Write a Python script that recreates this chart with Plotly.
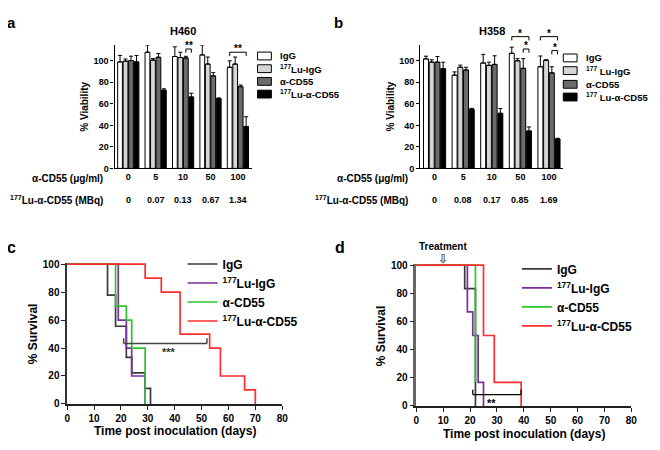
import plotly.graph_objects as go

# ---- bar panels (a: H460, b: H358) ----
groups = ['0', '5', '10', '50', '100']
mbq_a = ['0', '0.07', '0.13', '0.67', '1.34']
mbq_b = ['0', '0.08', '0.17', '0.85', '1.69']
names_a = ['IgG', '<sup>177</sup>Lu-IgG', 'α-CD55', '<sup>177</sup>Lu-α-CD55']
names_b = ['IgG', '<sup>177</sup> Lu-IgG', 'α-CD55', '<sup>177</sup> Lu-α-CD55']
bar_colors = ['#FFFFFF', '#D6D6D6', '#6B6B6B', '#000000']

h460_igg = [99, 108, 104, 105.5, 94]
h460_igg_err = [6, 6.5, 9, 9, 6]
h460_luigg = [99.7, 100.6, 103, 97, 97]
h460_luigg_err = [2, 1.5, 5, 6.5, 6.5]
h460_cd55 = [100.3, 103.3, 102.7, 86, 76]
h460_cd55_err = [4, 3.5, 1.5, 3, 1.5]
h460_lucd55 = [99, 72.7, 66.4, 65, 39]
h460_lucd55_err = [6, 1.3, 3.5, 0.5, 9]

h358_igg = [101.8, 86.7, 98, 107, 94.5]
h358_igg_err = [2.5, 3, 8, 5.7, 10]
h358_luigg = [98.8, 94, 95.8, 100, 100.6]
h358_luigg_err = [2.2, 2, 3, 2, 0.3]
h358_cd55 = [98.8, 91.5, 96.7, 93, 88.8]
h358_cd55_err = [5.2, 2.5, 8, 9, 5.7]
h358_lucd55 = [92.7, 55, 51.2, 34.8, 27.3]
h358_lucd55_err = [6, 0.8, 4.5, 3.7, 0.7]

# ---- survival panels (c, d) ----
c_igg_t = [0, 15, 18, 22, 24, 29, 31]
c_igg_s = [100, 77.8, 55.6, 33.3, 22.2, 11.1, 0]
c_luigg_t = [0, 19, 22, 24, 29]
c_luigg_s = [100, 60, 40, 20, 0]
c_cd55_t = [0, 18, 22, 24, 29]
c_cd55_s = [100, 70, 60, 40, 0]
c_lucd55_t = [0, 29, 35, 42, 53, 57, 66, 70]
c_lucd55_s = [100, 90, 80, 50, 40, 20, 10, 0]

d_igg_t = [0, 18, 22]
d_igg_s = [100, 83.3, 0]
d_luigg_t = [0, 19, 21, 23, 25]
d_luigg_s = [100, 66.7, 50, 16.7, 0]
d_cd55_t = [0, 22]
d_cd55_s = [100, 16.7]
d_lucd55_t = [0, 25, 29, 39]
d_lucd55_s = [100, 50, 16.7, 0]

surv_names = ['IgG', '<sup>177</sup>Lu-IgG', 'α-CD55', '<sup>177</sup>Lu-α-CD55']
surv_colors = ['#3A3A3A', '#7A2E9E', '#2BC42B', '#FF2E2E']

FONT = 'Liberation Sans, Arial, sans-serif'
BAR_YMAX = 114.5
SURV_YMAX = 101
# the page body has an 8px margin, so the figure is drawn 8px in from the corner
OFF = 8
W, H = 660 - OFF, 450 - OFF

fig = go.Figure()

bar_sets = [
    ('x', 'y', names_a,
     [(h460_igg, h460_igg_err), (h460_luigg, h460_luigg_err),
      (h460_cd55, h460_cd55_err), (h460_lucd55, h460_lucd55_err)]),
    ('x2', 'y2', names_b,
     [(h358_igg, h358_igg_err), (h358_luigg, h358_luigg_err),
      (h358_cd55, h358_cd55_err), (h358_lucd55, h358_lucd55_err)]),
]
for xa, ya, names, data in bar_sets:
    for name, color, (vals, errs) in zip(names, bar_colors, data):
        fig.add_trace(go.Bar(
            x=groups, y=vals, name=name, xaxis=xa, yaxis=ya, showlegend=False,
            marker=dict(color=color, line=dict(color='black', width=1)),
            error_y=dict(type='data', symmetric=False, array=errs,
                         arrayminus=[0] * len(errs), color='black',
                         thickness=1, width=2),
        ))

surv_sets = [
    ('x3', 'y3', 'legend', [(c_igg_t, c_igg_s), (c_luigg_t, c_luigg_s),
                            (c_cd55_t, c_cd55_s), (c_lucd55_t, c_lucd55_s)]),
    ('x4', 'y4', 'legend2', [(d_igg_t, d_igg_s), (d_luigg_t, d_luigg_s),
                             (d_cd55_t, d_cd55_s), (d_lucd55_t, d_lucd55_s)]),
]
for xa, ya, leg, data in surv_sets:
    for name, color, (t, s) in zip(surv_names, surv_colors, data):
        fig.add_trace(go.Scatter(
            x=t, y=s, name=name, xaxis=xa, yaxis=ya, legend=leg,
            mode='lines', line=dict(color=color, width=1.7, shape='hv'),
        ))


def px_x(p):
    return (p - OFF) / W


def px_y(p):
    return 1 - (p - OFF) / H


def bar_axes(x0, x1):
    xa = dict(domain=[px_x(x0), px_x(x1)], type='category', range=[-0.5, 4.5],
              showline=True, linecolor='black', linewidth=1.2, ticks='',
              showgrid=False, tickfont=dict(family=FONT, size=9, color='black', weight='bold'))
    ya = dict(domain=[px_y(168), px_y(42)], range=[0, BAR_YMAX],
              tickvals=[0, 20, 40, 60, 80, 100], showline=True, linecolor='black',
              linewidth=1.2, ticks='outside', ticklen=3, tickcolor='black',
              showgrid=False, zeroline=False,
              tickfont=dict(family=FONT, size=9, color='black', weight='bold'))
    return xa, ya


def surv_axes(x0, x1, y0, y1, ycol, ywidth):
    xa = dict(domain=[px_x(x0), px_x(x1)], range=[0, 80], dtick=10,
              showline=True, linecolor='#222', linewidth=1.5, ticks='outside',
              ticklen=4, tickcolor='#222', showgrid=False, zeroline=False,
              tickfont=dict(family=FONT, size=10, color='black', weight='bold'))
    ya = dict(domain=[px_y(y0), px_y(y1)], range=[0, SURV_YMAX],
              tickvals=[0, 20, 40, 60, 80, 100], showline=True, linecolor=ycol,
              linewidth=ywidth, ticks='outside', ticklen=4, tickcolor='#222',
              showgrid=False, zeroline=False,
              tickfont=dict(family=FONT, size=10, color='black', weight='bold'))
    return xa, ya


xa1, ya1 = bar_axes(113, 252)
xa2, ya2 = bar_axes(423, 568)
xa3, ya3 = surv_axes(65, 283, 409, 264.6, '#333', 1.5)
xa4, ya4 = surv_axes(419, 637, 411, 265.5, '#666', 2.5)
xa1['anchor'] = 'y'; ya1['anchor'] = 'x'
xa2['anchor'] = 'y2'; ya2['anchor'] = 'x2'
xa3['anchor'] = 'y3'; ya3['anchor'] = 'x3'
xa4['anchor'] = 'y4'; ya4['anchor'] = 'x4'

surv_leg_font = dict(family=FONT, size=12, color='black', weight='bold')

fig.update_layout(
    width=W, height=H, margin=dict(l=0, r=0, t=0, b=0),
    paper_bgcolor='white', plot_bgcolor='white',
    barmode='group', bargap=0.2, bargroupgap=0.13,
    xaxis=xa1, yaxis=ya1, xaxis2=xa2, yaxis2=ya2,
    xaxis3=xa3, yaxis3=ya3, xaxis4=xa4, yaxis4=ya4,
    legend=dict(x=px_x(182), y=px_y(251), xanchor='left', yanchor='top',
                font=surv_leg_font, bgcolor='rgba(0,0,0,0)'),
    legend2=dict(x=px_x(521), y=px_y(256), xanchor='left', yanchor='top',
                 font=surv_leg_font, bgcolor='rgba(0,0,0,0)'),
)

ann = []
shapes = []


def text(x, y, s, size=10, xanchor='center', angle=0, xref='paper', yref='paper',
         color='black', yanchor='middle'):
    ann.append(dict(x=x, y=y, text=s, xref=xref, yref=yref, showarrow=False,
                    xanchor=xanchor, yanchor=yanchor, textangle=angle,
                    font=dict(family=FONT, size=size, color=color, weight='bold')))


# panel letters
text(px_x(9), px_y(8), 'a', 15, yanchor='top')
text(px_x(340), px_y(8), 'b', 15, yanchor='top')
text(px_x(9), px_y(249), 'c', 16)
text(px_x(342), px_y(249), 'd', 16)

# bar panel titles, axis titles, dose rows
for xref, x0, x1, mbq, title in [('x', 113, 252, mbq_a, 'H460'), ('x2', 423, 568, mbq_b, 'H358')]:
    text((px_x(x0) + px_x(x1)) / 2, px_y(27), title, 11)
    text(px_x(x0 - 30), px_y(105), '% Viability', 10, angle=-90)
    text(px_x(x0 - 10), px_y(178), 'α-CD55 (μg/ml)', 10, xanchor='right')
    text(px_x(x0 - 10), px_y(200), '<sup>177</sup>Lu-α-CD55 (MBq)', 10, xanchor='right')
    for i, m in enumerate(mbq):
        text(i, px_y(200), m, 9, xref=xref)

# bar legends drawn as key boxes + labels
for names, bx, ys in [(names_a, 258, [53, 66, 79, 92]), (names_b, 568, [55, 68, 82, 95])]:
    for name, color, yc in zip(names, bar_colors, ys):
        shapes.append(dict(type='rect', xref='paper', yref='paper',
                           x0=px_x(bx), x1=px_x(bx + 14), y0=px_y(yc + 4), y1=px_y(yc - 4),
                           fillcolor=color, line=dict(color='black', width=1)))
        text(px_x(bx + 21), px_y(yc), name, 9.5, xanchor='left')

# survival axis titles
text(px_x(30), px_y(337), '% Survival', 12, angle=-90)
text(px_x(174), px_y(437), 'Time post inoculation (days)', 12)
text(px_x(383), px_y(339), '% Survival', 12, angle=-90)
text(px_x(528), px_y(440), 'Time post inoculation (days)', 12)


def line(xref, yref, x0, y0, x1, y1, color='black', width=1):
    shapes.append(dict(type='line', xref=xref, yref=yref, x0=x0, y0=y0, x1=x1, y1=y1,
                       line=dict(color=color, width=width)))


def bar_bracket(xa, i0, i1, yv, label, drop=3.5):
    # i0, i1: (group index, bar index) -> category position
    slot = (1 - 0.2) / 4
    xs = [g + (b - 1.5) * slot for g, b in (i0, i1)]
    yref = 'y' + xa[1:] + ' domain'
    top = yv / BAR_YMAX
    bot = (yv - drop) / BAR_YMAX
    line(xa, yref, xs[0], top, xs[1], top)
    line(xa, yref, xs[0], top, xs[0], bot)
    line(xa, yref, xs[1], top, xs[1], bot)
    text((xs[0] + xs[1]) / 2, (yv + 3) / BAR_YMAX, label, 10, xref=xa, yref=yref)


bar_bracket('x', (2, 2), (2, 3), 111, '**')
bar_bracket('x', (4, 0), (4, 3), 108, '**')
bar_bracket('x2', (3, 0), (3, 3), 122.5, '*')
bar_bracket('x2', (3, 2), (3, 3), 111, '*')
bar_bracket('x2', (4, 0), (4, 3), 122.5, '*')
bar_bracket('x2', (4, 2), (4, 3), 109.5, '*')

# survival significance brackets
line('x3', 'y3', 21, 43.3, 52, 43.3, '#444', 1.5)
line('x3', 'y3', 21, 43.3, 21, 47, '#444', 1.5)
line('x3', 'y3', 52, 43.3, 52, 47, '#444', 1.5)
text(38, 37, '***', 11, xref='x3', yref='y3', color='#333')

line('x4', 'y4', 21, 8, 39, 8, 'black', 1.3)
line('x4', 'y4', 21, 8, 21, 11.5, 'black', 1.3)
line('x4', 'y4', 39, 8, 39, 11.5, 'black', 1.3)
text(28, 2, '**', 11, xref='x4', yref='y4')

# treatment marker
text(10, (411 - 248) / 145.5, 'Treatment', 10, xref='x4', yref='y4 domain')
text(10, (411 - 261) / 145.5, '⇩', 12, xref='x4', yref='y4 domain', color='#777')

fig.update_layout(annotations=ann, shapes=shapes)

fig.write_html("out.html")
